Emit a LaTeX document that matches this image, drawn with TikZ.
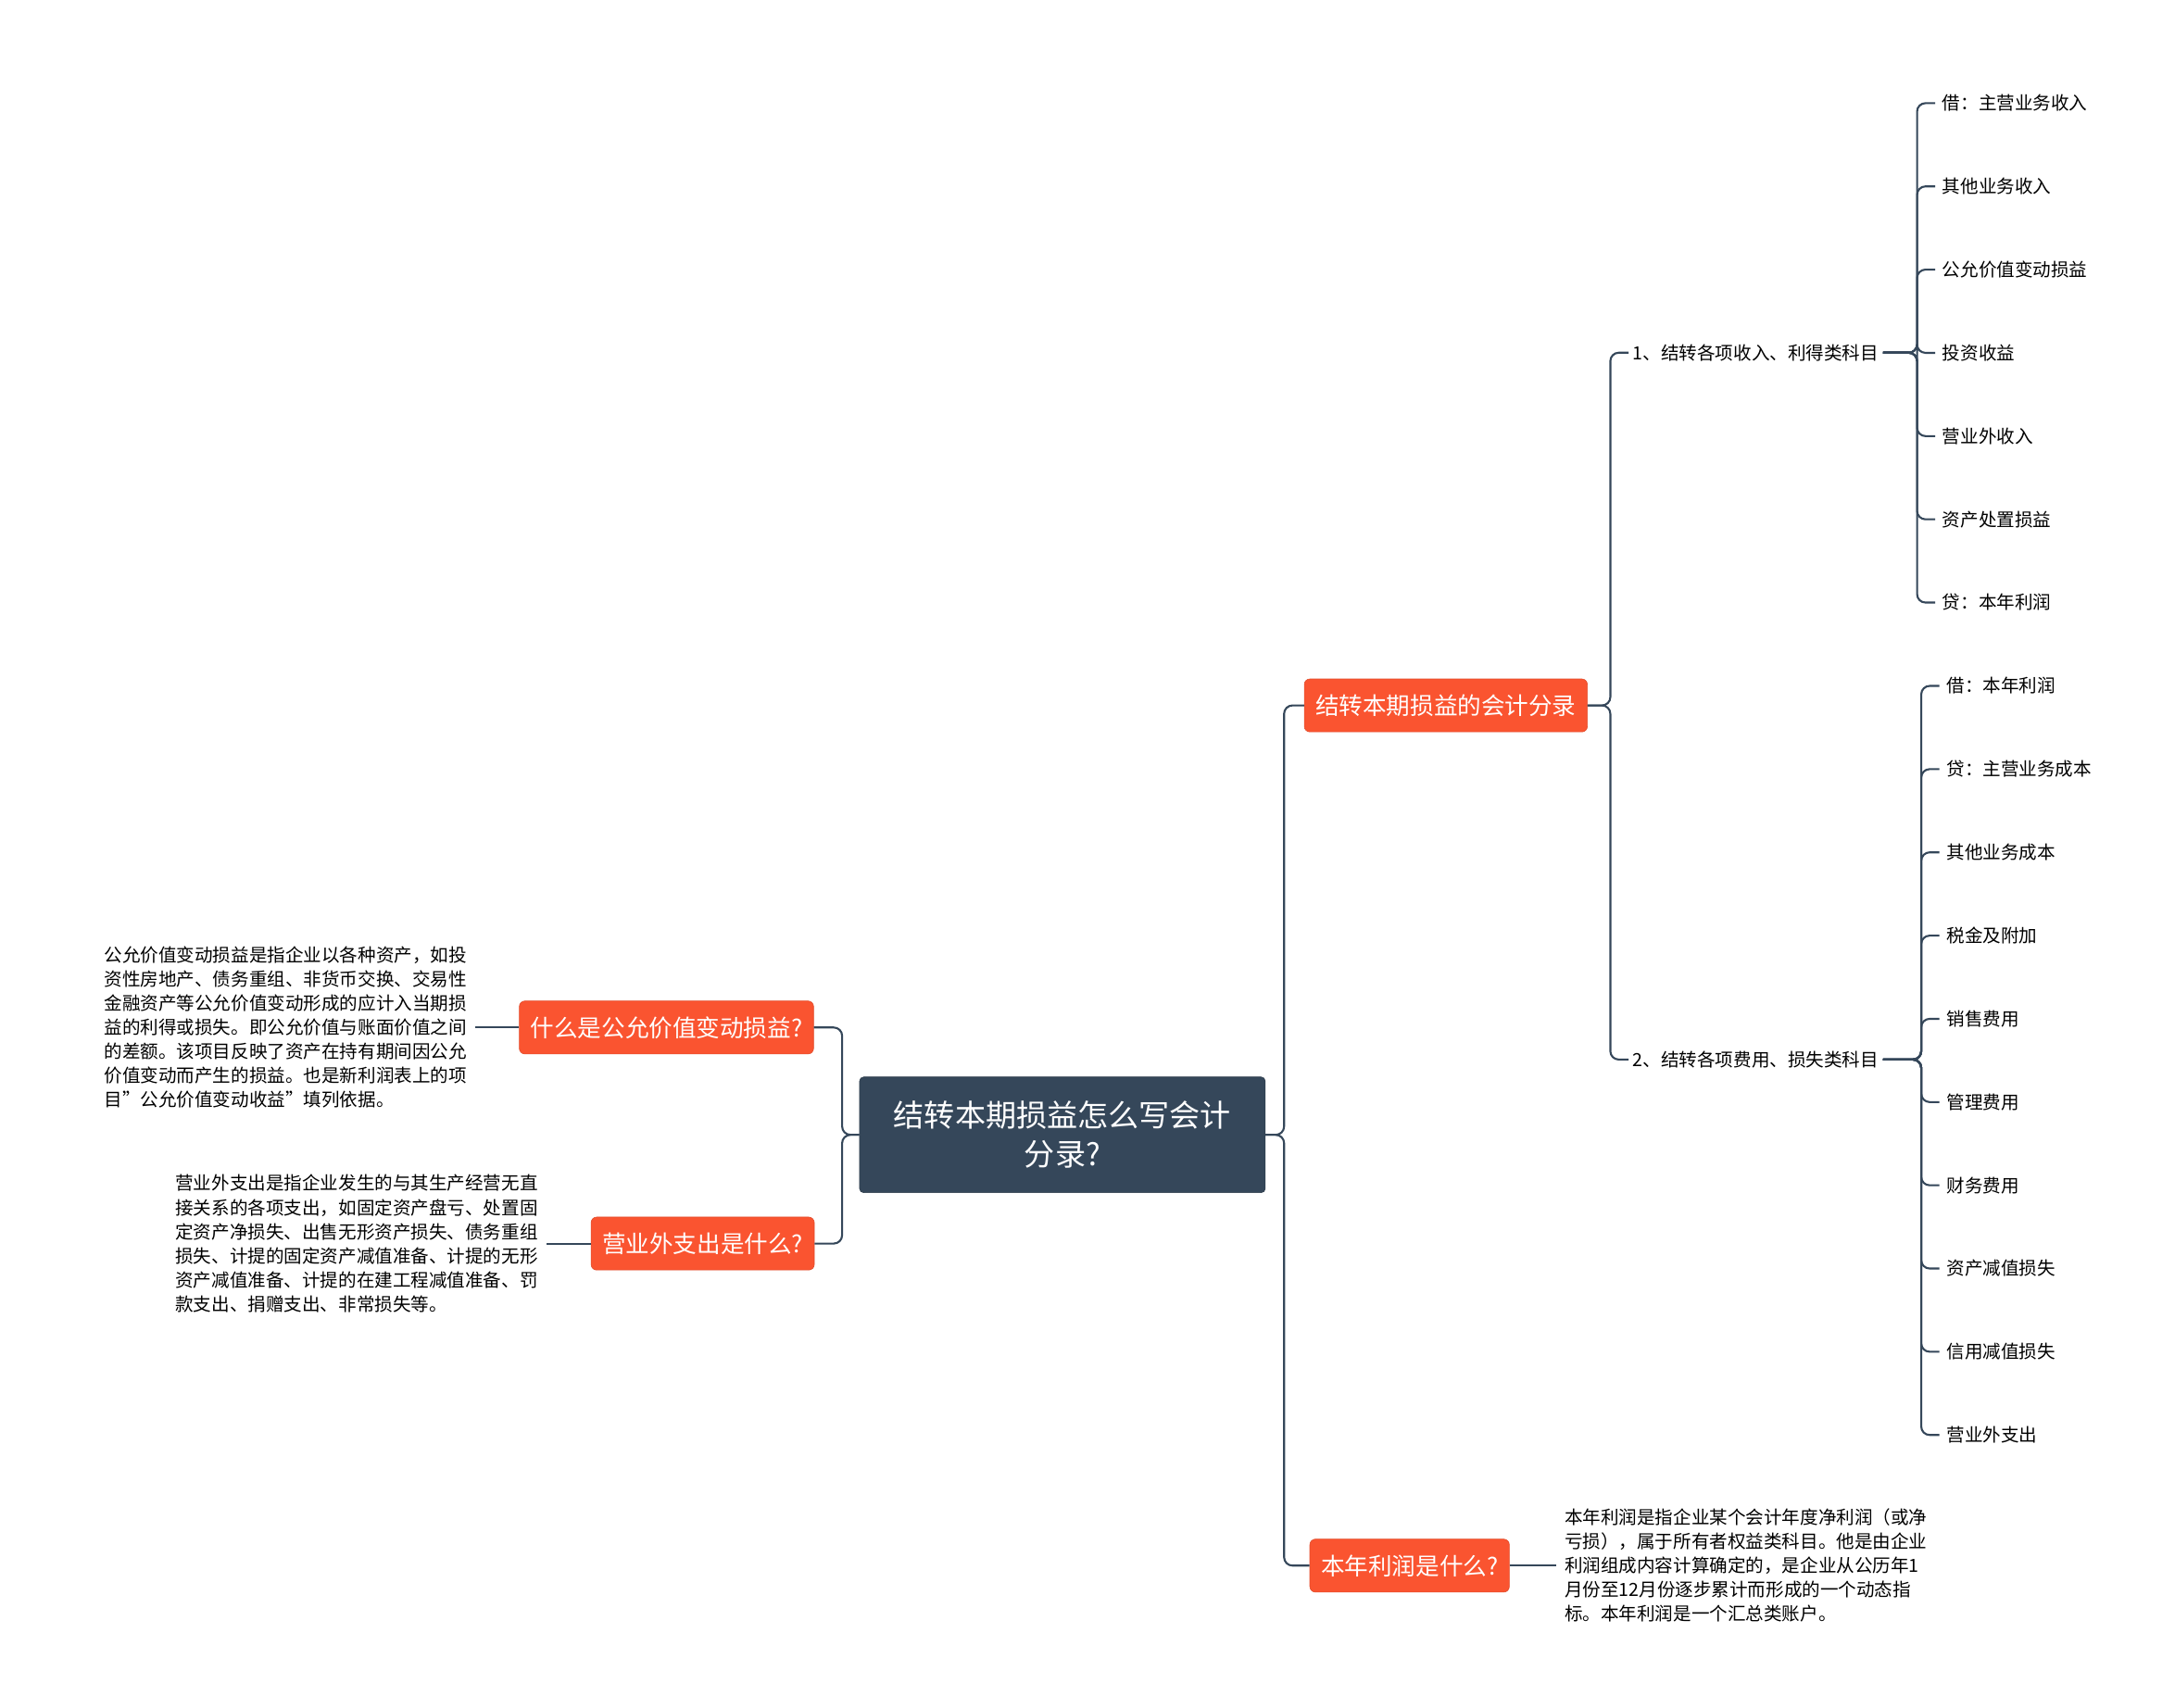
\documentclass[tikz,border=0pt]{standalone}
\usepackage{fontspec}
\setmainfont{Noto Sans CJK SC}
\definecolor{slate}{RGB}{53,71,90}
\definecolor{org}{RGB}{250,84,48}
\begin{document}
\begin{tikzpicture}[x=1pt,y=-1pt,
  ln/.style={draw=slate, line width=1.4pt, rounded corners=6pt},
  root/.style={fill=slate, draw=slate!80!black, rounded corners=3pt, text=white, font=\fontsize{22}{28}\selectfont, align=center, minimum width=291pt, minimum height=83pt},
  br/.style={fill=org, draw=org!90!black, rounded corners=4pt, text=white, font=\fontsize{17}{20}\selectfont, minimum height=38pt, inner xsep=8pt},
  sub/.style={font=\fontsize{13}{16}\selectfont, inner sep=3pt},
  leaf/.style={font=\fontsize{13}{16}\selectfont, anchor=west, inner sep=0pt},
  para/.style={font=\fontsize{13}{17.3}\selectfont, align=left, inner sep=0pt}]
\useasboundingbox (0,0) rectangle (1560,1225);
\fill[white] (0,0) rectangle (1560,1225);
\node[root] (R) at (762,814) {结转本期损益怎么写会计\\分录?};
\node[br] (B1) at (1037,506) {结转本期损益的会计分录};
\node[br] (B2) at (1011,1123) {本年利润是什么?};
\node[br] (L1) at (478,737) {什么是公允价值变动损益?};
\node[br] (L2) at (504,892) {营业外支出是什么?};
\node[sub,anchor=west] (S1) at (1168,253) {1、结转各项收入、利得类科目};
\node[sub,anchor=west] (S2) at (1168,760) {2、结转各项费用、损失类科目};
\foreach \t [count=\i] in {借：主营业务收入,其他业务收入,公允价值变动损益,投资收益,营业外收入,资产处置损益,贷：本年利润}{
  \node[leaf] (a\i) at (1393,{74+59.7*(\i-1)}) {\t};
  \draw[ln] (S1.east) -- (1375,253) |- ([xshift=-5pt]a\i.west);
}
\foreach \t [count=\i] in {借：本年利润,贷：主营业务成本,其他业务成本,税金及附加,销售费用,管理费用,财务费用,资产减值损失,信用减值损失,营业外支出}{
  \node[leaf] (b\i) at (1396,{492+59.7*(\i-1)}) {\t};
  \draw[ln] (S2.east) -- (1378,760) |- ([xshift=-5pt]b\i.west);
}
\draw[ln] (R.east) -- (921,814) |- (B1.west);
\draw[ln] (R.east) -- (921,814) |- (B2.west);
\draw[ln] (B1.east) -- (1155,506) |- (S1.west);
\draw[ln] (B1.east) -- (1155,506) |- (S2.west);
\draw[ln] (R.west) -- (604,814) |- (L1.east);
\draw[ln] (R.west) -- (604,814) |- (L2.east);
\node[para,anchor=west] (T3) at (1122,1123) {本年利润是指企业某个会计年度净利润（或净\\亏损），属于所有者权益类科目。他是由企业\\利润组成内容计算确定的，是企业从公历年1\\月份至12月份逐步累计而形成的一个动态指\\标。本年利润是一个汇总类账户。};
\node[para,anchor=east] (T1) at (335,737) {公允价值变动损益是指企业以各种资产，如投\\资性房地产、债务重组、非货币交换、交易性\\金融资产等公允价值变动形成的应计入当期损\\益的利得或损失。即公允价值与账面价值之间\\的差额。该项目反映了资产在持有期间因公允\\价值变动而产生的损益。也是新利润表上的项\\目"公允价值变动收益"填列依据。};
\node[para,anchor=east] (T2) at (386,892) {营业外支出是指企业发生的与其生产经营无直\\接关系的各项支出，如固定资产盘亏、处置固\\定资产净损失、出售无形资产损失、债务重组\\损失、计提的固定资产减值准备、计提的无形\\资产减值准备、计提的在建工程减值准备、罚\\款支出、捐赠支出、非常损失等。};
\draw[ln] (B2.east) -- ([xshift=-6pt]T3.west);
\draw[ln] (L1.west) -- (341,737);
\draw[ln] (L2.west) -- (392,892);
\end{tikzpicture}
\end{document}
